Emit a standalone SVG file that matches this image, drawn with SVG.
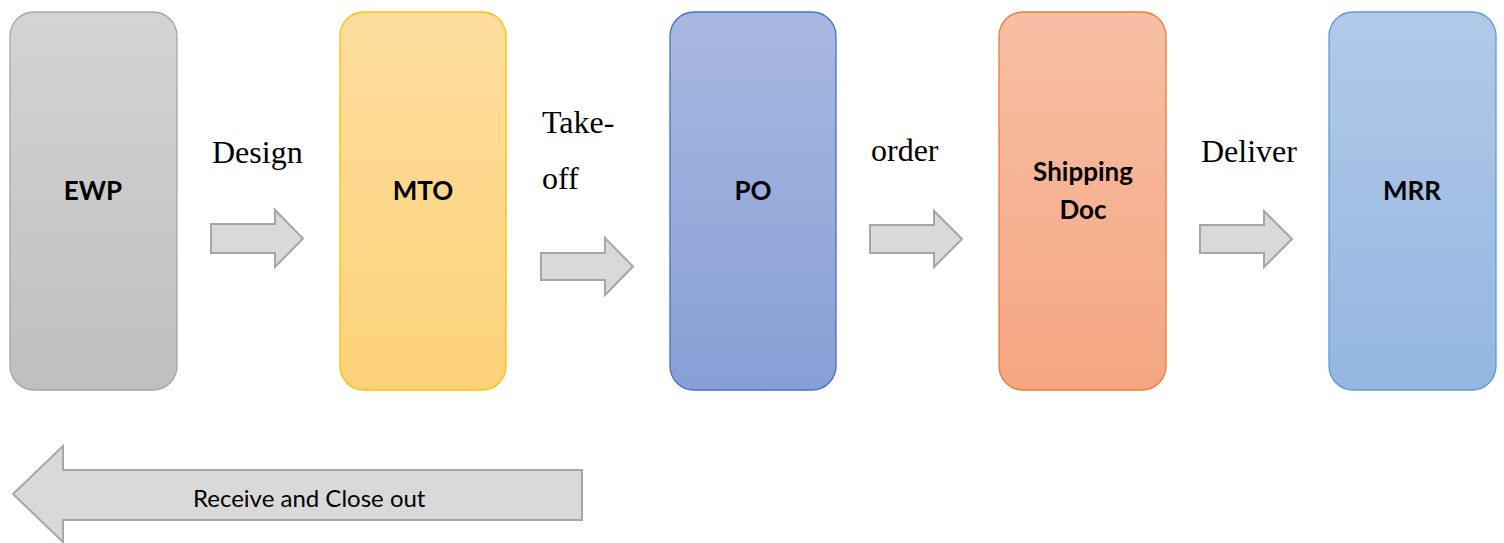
<svg xmlns="http://www.w3.org/2000/svg" width="1504" height="543" viewBox="0 0 1504 543">
  <defs>
    <linearGradient id="gGrey" x1="0" y1="0" x2="0" y2="1">
      <stop offset="0" stop-color="#d4d4d4"/>
      <stop offset="1" stop-color="#bfbfbf"/>
    </linearGradient>
    <linearGradient id="gGold" x1="0" y1="0" x2="0" y2="1">
      <stop offset="0" stop-color="#fedd9e"/>
      <stop offset="1" stop-color="#fdd27a"/>
    </linearGradient>
    <linearGradient id="gIndigo" x1="0" y1="0" x2="0" y2="1">
      <stop offset="0" stop-color="#a9b8e0"/>
      <stop offset="1" stop-color="#889fd6"/>
    </linearGradient>
    <linearGradient id="gOrange" x1="0" y1="0" x2="0" y2="1">
      <stop offset="0" stop-color="#f7bfa6"/>
      <stop offset="1" stop-color="#f5a681"/>
    </linearGradient>
    <linearGradient id="gBlue" x1="0" y1="0" x2="0" y2="1">
      <stop offset="0" stop-color="#b1cae8"/>
      <stop offset="1" stop-color="#94b6e1"/>
    </linearGradient>
  </defs>
  <style>
    .box { stroke-width: 1.3; }
    .title { font-family: Lato, "Liberation Sans", sans-serif; font-weight: bold; font-size: 26px; fill: #000; text-anchor: middle; }
    .step { font-family: "Liberation Serif", serif; font-size: 32px; fill: #000; }
    .flow { fill: #d9d9d9; stroke: #a6a6a6; stroke-width: 2; stroke-linejoin: miter; }
    .back { font-family: Lato, "Liberation Sans", sans-serif; font-size: 24px; fill: #000; }
  </style>

  <rect width="1504" height="543" fill="#ffffff"/>

  <!-- process stages -->
  <g id="ewp">
    <rect class="box" x="10" y="12" width="167" height="378" rx="24" fill="url(#gGrey)" stroke="#a5a5a5"/>
    <text class="title" x="93" y="200">EWP</text>
  </g>
  <g id="mto">
    <rect class="box" x="340" y="12" width="166" height="378" rx="24" fill="url(#gGold)" stroke="#ffc000"/>
    <text class="title" x="423" y="200">MTO</text>
  </g>
  <g id="po">
    <rect class="box" x="670" y="12" width="166" height="378" rx="24" fill="url(#gIndigo)" stroke="#4472c4"/>
    <text class="title" x="753" y="200">PO</text>
  </g>
  <g id="shipping-doc">
    <rect class="box" x="999" y="12" width="167" height="378" rx="24" fill="url(#gOrange)" stroke="#ed7d31"/>
    <text class="title" x="1083" y="181">Shipping</text>
    <text class="title" x="1083" y="219">Doc</text>
  </g>
  <g id="mrr">
    <rect class="box" x="1329" y="12" width="167" height="378" rx="24" fill="url(#gBlue)" stroke="#5b9bd5"/>
    <text class="title" x="1412" y="200">MRR</text>
  </g>

  <!-- connectors between stages -->
  <g id="connectors">
    <path class="flow" d="M211,224 H275 V210 L303,238.5 L275,267 V253 H211 Z"/>
    <path class="flow" d="M541,253 H605 V238 L633,266.5 L605,295 V280 H541 Z"/>
    <path class="flow" d="M870,225 H934 V211 L962,239 L934,267 V253 H870 Z"/>
    <path class="flow" d="M1200,225 H1264 V211 L1292,239 L1264,267 V253 H1200 Z"/>
    <path class="flow" d="M582,470 H63 V446 L13,494 L63,542 V520 H582 Z"/>
  </g>

  <!-- connector labels -->
  <g id="labels">
    <text class="step" x="212" y="163">Design</text>
    <text class="step" x="542" y="133">Take-</text>
    <text class="step" x="542" y="189">off</text>
    <text class="step" x="871" y="161">order</text>
    <text class="step" x="1201" y="162">Deliver</text>
    <text class="back" x="193" y="507">Receive and Close out</text>
  </g>
</svg>
